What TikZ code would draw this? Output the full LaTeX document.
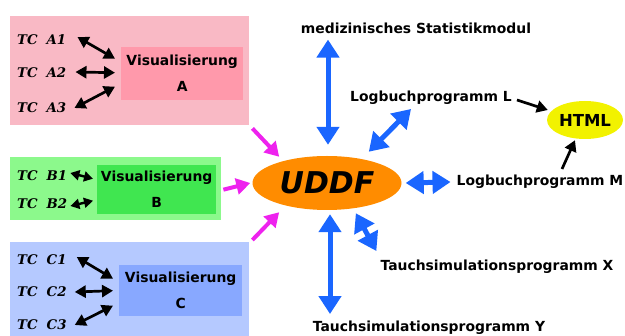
\documentclass[tikz,border=0pt]{standalone}
\usepackage{fontspec}
\setmainfont{DejaVu Sans}
\newfontfamily\tcfont{DejaVu Serif}
\usetikzlibrary{arrows.meta,shapes.geometric,calc}
\definecolor{pinkbg}{HTML}{F9B9C5}
\definecolor{pinkin}{HTML}{FF99AB}
\definecolor{greenbg}{HTML}{8CF98C}
\definecolor{greenin}{HTML}{40E650}
\definecolor{bluebg}{HTML}{B5C9FF}
\definecolor{bluein}{HTML}{88A8FF}
\definecolor{arrblue}{HTML}{1A66FF}
\definecolor{arrmag}{HTML}{EE22EE}
\definecolor{uddforange}{HTML}{FF8C00}
\definecolor{htmlyellow}{HTML}{F2F200}
\begin{document}
\begin{tikzpicture}[x=1pt,y=-1pt,
  panel/.style={rectangle,draw=none,inner sep=0pt,anchor=north west},
  vis/.style={rectangle,draw=none,inner sep=0pt,anchor=north west,align=center,font=\bfseries\fontsize{13.9}{26}\selectfont},
  lbl/.style={inner sep=0pt,font=\bfseries\fontsize{13.9}{16}\selectfont},
  tc/.style={inner sep=0pt,anchor=west,font=\tcfont\bfseries\itshape\fontsize{13.3}{15}\selectfont},
  blk/.style={line width=2.7pt,{Triangle[length=11pt,width=12pt]}-{Triangle[length=11pt,width=12pt]}},
  blkone/.style={line width=2.7pt,-{Triangle[length=11pt,width=12pt]}},
  blu/.style={arrblue,line width=5pt,{Triangle[length=18pt,width=22pt]}-{Triangle[length=18pt,width=22pt]}},
  mag/.style={arrmag,line width=4pt,-{Triangle[length=14pt,width=16pt]}}
]
\useasboundingbox (0,0) rectangle (625,336);

% panels
\node[panel,fill=pinkbg,minimum width=239pt,minimum height=109pt] (boxA) at (10,16) {};
\node[vis,fill=pinkin,minimum width=122pt,minimum height=53pt] (visA) at (121,47) {Visualisierung\\A};
\node[panel,fill=greenbg,minimum width=211pt,minimum height=63pt] (boxB) at (10,157) {};
\node[vis,fill=greenin,minimum width=119pt,minimum height=49pt] (visB) at (97,165) {Visualisierung\\B};
\node[panel,fill=bluebg,minimum width=239pt,minimum height=100pt] (boxC) at (10,242) {};
\node[vis,fill=bluein,minimum width=123pt,minimum height=51pt] (visC) at (119,265) {Visualisierung\\C};

% TC labels
\node[tc] (tcA1) at (17,40) {TC\hspace{9pt}A1};
\node[tc] (tcA2) at (17,73) {TC\hspace{9pt}A2};
\node[tc] (tcA3) at (17,108) {TC\hspace{9pt}A3};
\node[tc] (tcB1) at (17,176) {TC\hspace{9pt}B1};
\node[tc] (tcB2) at (17,204) {TC\hspace{9pt}B2};
\node[tc] (tcC1) at (17,260) {TC\hspace{9pt}C1};
\node[tc] (tcC2) at (17,292) {TC\hspace{9pt}C2};
\node[tc] (tcC3) at (17,325) {TC\hspace{9pt}C3};

% black arrows in panels
\draw[blk] ($(tcA1.east)+(11,-3)$) -- ($(visA.west)+(-6,-15)$);
\draw[blk] ($(tcA2.east)+(9,-1)$) -- ($(visA.west)+(-6,-1)$);
\draw[blk] ($(tcA3.east)+(8,0)$) -- ($(visA.west)+(-6,13)$);
\draw[line width=2.4pt,{Triangle[length=9pt,width=10pt]}-{Triangle[length=9pt,width=10pt]}] ($(tcB1.east)+(3,-3)$) -- ($(visB.west)+(-4,-11)$);
\draw[line width=2.4pt,{Triangle[length=9pt,width=10pt]}-{Triangle[length=9pt,width=10pt]}] ($(tcB2.east)+(3,2)$) -- ($(visB.west)+(-4,11)$);
\draw[blk] ($(tcC1.east)+(10,-3)$) -- ($(visC.west)+(-6,-12)$);
\draw[blk] ($(tcC2.east)+(8,0)$) -- ($(visC.west)+(-6,0)$);
\draw[blk] ($(tcC3.east)+(8,0)$) -- ($(visC.west)+(-6,15)$);

% center
\node[ellipse,fill=uddforange,minimum width=149pt,minimum height=54pt,inner sep=0pt,
      font=\bfseries\itshape\fontsize{30}{32}\selectfont] (uddf) at (327,183) {UDDF};

% labels
\node[lbl] (stat) at (416,28) {medizinisches Statistikmodul};
\node[lbl] (logL) at (431,98) {Logbuchprogramm L};
\node[lbl] (logM) at (540,182) {Logbuchprogramm M};
\node[lbl] (simX) at (497,267) {Tauchsimulationsprogramm X};
\node[lbl] (simY) at (429,328) {Tauchsimulationsprogramm Y};
\node[ellipse,fill=htmlyellow,minimum width=76pt,minimum height=38pt,inner sep=0pt,
      font=\bfseries\fontsize{16.5}{18}\selectfont] (html) at (585,120) {HTML};

% blue arrows
\draw[blu] ($(stat.south -| uddf.north)+(1,6)$) -- ($(uddf.north)+(1,-11)$);
\draw[blu] ($(uddf.north east)+(-11,-12)$) -- ($(logL.south west)+(61,4)$);
\draw[blu] ($(uddf.east)+(4,0)$) -- ($(logM.west)+(-6,0)$);
\draw[blu] ($(uddf.south)+(3,4)$) -- ($(simY.north -| uddf.south)+(3,-7)$);
\draw[blu] ($(uddf.south east)+(-24,11)$) -- ($(simX.north west)+(-4,-9)$);

% magenta arrows
\draw[mag] ($(boxA.south east)+(3,3)$) -- ($(uddf.north west)+(5,-7)$);
\draw[mag] ($(boxB.east)+(2,1)$) -- ($(uddf.west)+(-2,0)$);
\draw[mag] ($(boxC.north east)+(3,-2)$) -- ($(uddf.south west)+(5,10)$);

% black arrows to HTML
\draw[blkone] ($(logL.east)+(5,2)$) -- ($(html.west)+(1,-10)$);
\draw[blkone] ($(logM.north)+(22,-6)$) -- ($(html.south)+(-10,1)$);
\end{tikzpicture}
\end{document}
